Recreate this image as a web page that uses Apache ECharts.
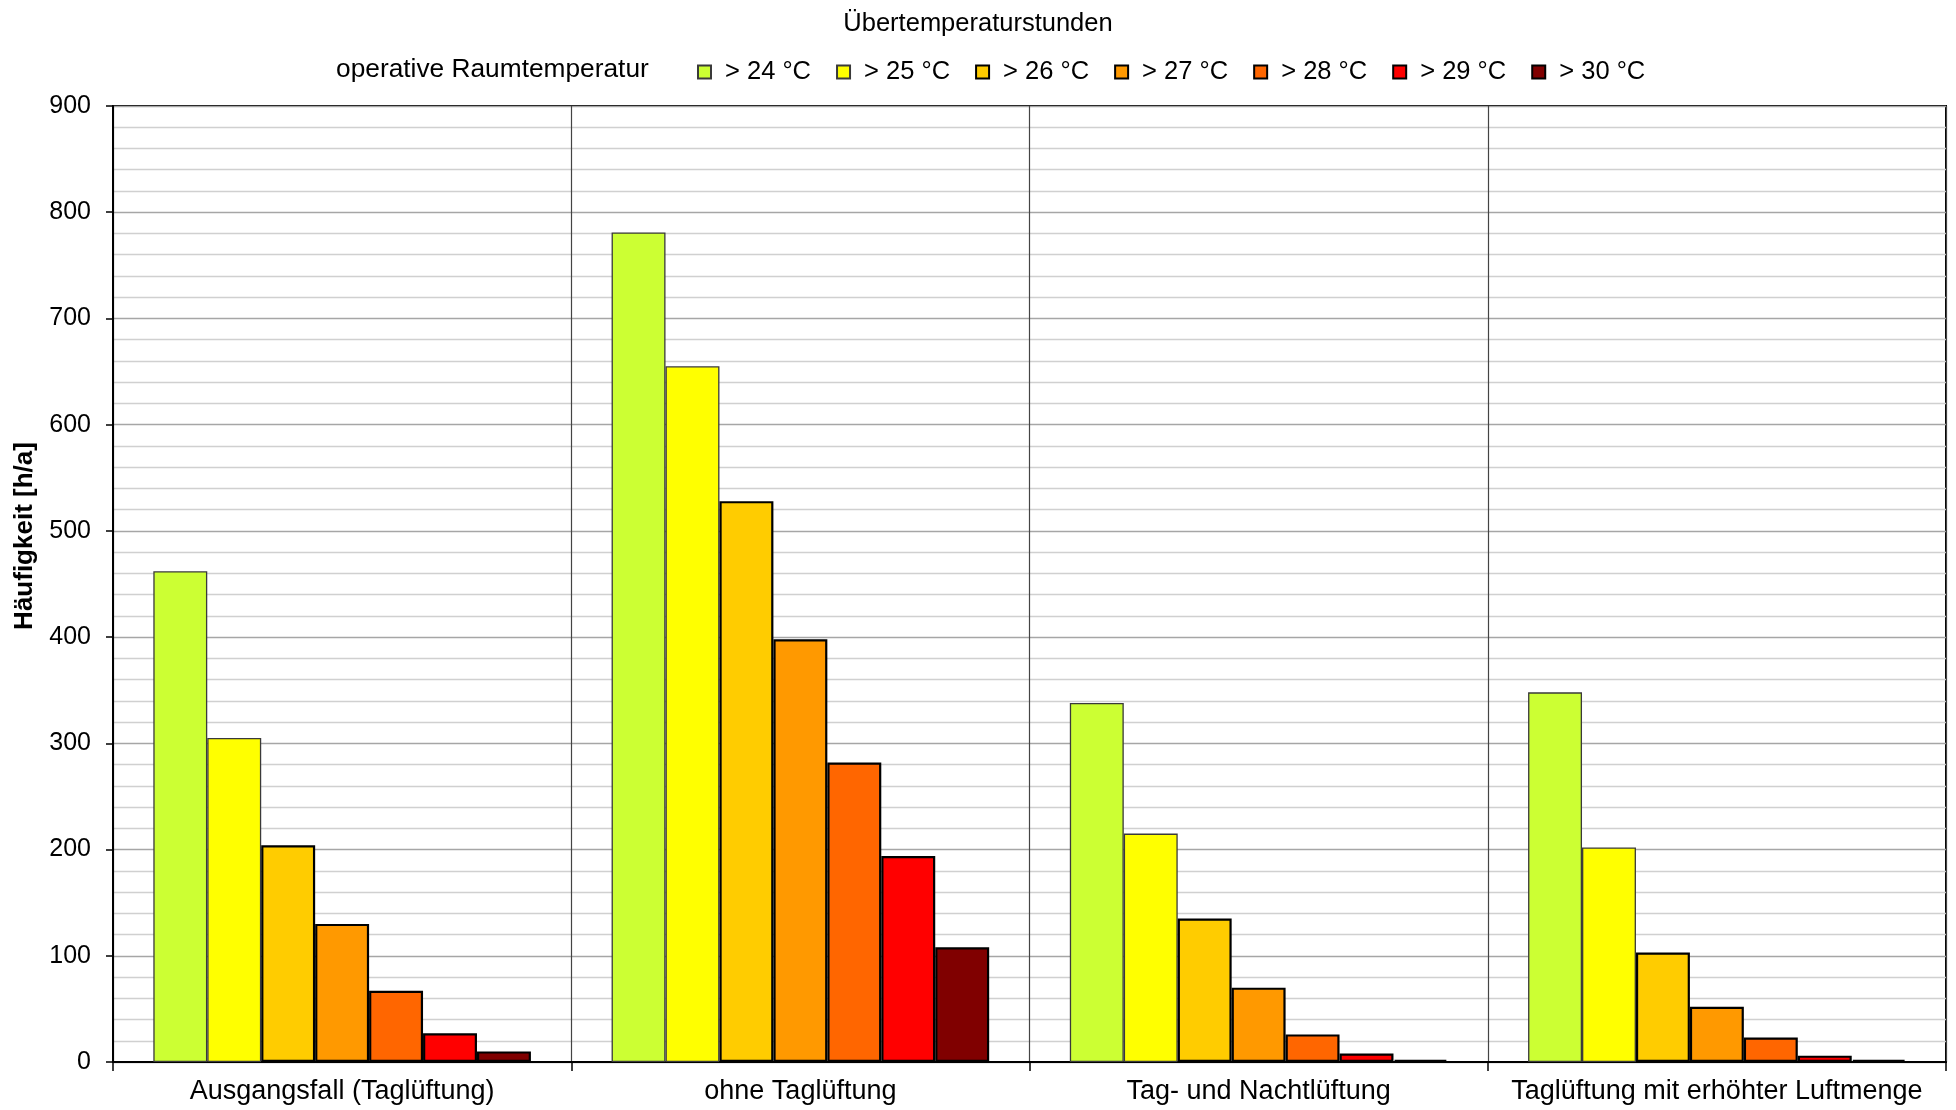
<!DOCTYPE html>
<html>
<head>
<meta charset="utf-8">
<script src="https://cdn.jsdelivr.net/npm/echarts@6/dist/echarts.min.js"></script>
<style>html,body{margin:0;padding:0;background:#fff;}#c{width:1956px;height:1110px;}</style>
</head>
<body>
<div id="c"></div>
<script>
const categories = ['Ausgangsfall (Taglüftung)', 'ohne Taglüftung', 'Tag- und Nachtlüftung', 'Taglüftung mit erhöhter Luftmenge'];
const seriesNames = ['> 24 °C', '> 25 °C', '> 26 °C', '> 27 °C', '> 28 °C', '> 29 °C', '> 30 °C'];
const s24 = [462, 781, 338, 348];
const s25 = [305, 655, 215, 202];
const s26 = [204, 528, 135, 103];
const s27 = [130, 398, 70, 52];
const s28 = [67, 282, 26, 23];
const s29 = [27, 194, 8, 6];
const s30 = [10, 108, 2, 2];
const yTicks = [0, 100, 200, 300, 400, 500, 600, 700, 800, 900];

const seriesData = [s24, s25, s26, s27, s28, s29, s30];
const colors = ['#CCFF33', '#FFFF00', '#FFCC00', '#FF9900', '#FF6600', '#FF0000', '#800000'];
const FONT = '"Liberation Sans", Arial, sans-serif';

const chart = echarts.init(document.getElementById('c'), null, {renderer: 'canvas'});
const series = seriesData.map((d, i) => ({
  name: seriesNames[i],
  type: 'bar',
  data: d,
  barGap: '0%',
  barCategoryGap: '17.6%',
  itemStyle: {
    color: colors[i],
    borderColor: i < 2 ? '#3a3a3a' : '#000',
    borderWidth: i < 2 ? 1.3 : 2.2
  },
  emphasis: {disabled: true},
  animation: false
}));

chart.setOption({
  animation: false,
  textStyle: {fontFamily: FONT},
  grid: {left: 113, right: 10, top: 106, bottom: 48, show: true, borderColor: '#000', borderWidth: 2, containLabel: false},
  title: {
    text: 'Übertemperaturstunden',
    left: 'center', top: 11,
    textStyle: {fontFamily: FONT, fontSize: 25.5, fontWeight: 'normal', color: '#000'},
    padding: 0
  },
  legend: {
    data: seriesNames,
    left: 697, top: 59,
    padding: 0,
    icon: 'rect',
    itemWidth: 13, itemHeight: 13,
    itemGap: 25,
    textStyle: {fontFamily: FONT, fontSize: 25.5, color: '#000', padding: [0, 0, 0, 9]},
    selectedMode: false
  },
  graphic: [
    {type: 'text', left: 336, top: 57, style: {text: 'operative Raumtemperatur', font: '26.3px ' + FONT, fill: '#000'}},
    {type: 'text', x: 25, y: 536, rotation: Math.PI / 2,
      style: {text: 'Häufigkeit [h/a]', font: 'bold 26px ' + FONT, fill: '#000', align: 'center', verticalAlign: 'middle'}}
  ],
  xAxis: {
    type: 'category',
    data: categories,
    axisLine: {lineStyle: {color: '#000', width: 2}},
    axisTick: {show: true, interval: 0, length: 9, lineStyle: {color: '#000', width: 1.5}},
    axisLabel: {interval: 0, fontFamily: FONT, fontSize: 27, color: '#000', margin: 16},
    splitLine: {show: true, interval: 0, lineStyle: {color: '#444', width: 1.2}}
  },
  yAxis: {
    type: 'value',
    min: 0, max: 900, interval: 100,
    axisLine: {show: true, lineStyle: {color: '#000', width: 2}},
    axisTick: {show: true, length: 7, lineStyle: {color: '#000', width: 1.5}},
    axisLabel: {fontFamily: FONT, fontSize: 25, color: '#000', margin: 22,
      formatter: v => yTicks.includes(v) ? String(v) : ''},
    splitLine: {show: true, lineStyle: {color: '#a6a6a6', width: 1.3}},
    minorTick: {show: false, splitNumber: 5},
    minorSplitLine: {show: true, lineStyle: {color: '#d0d0d0', width: 1.3}}
  },
  series: series
});
</script>
</body>
</html>
